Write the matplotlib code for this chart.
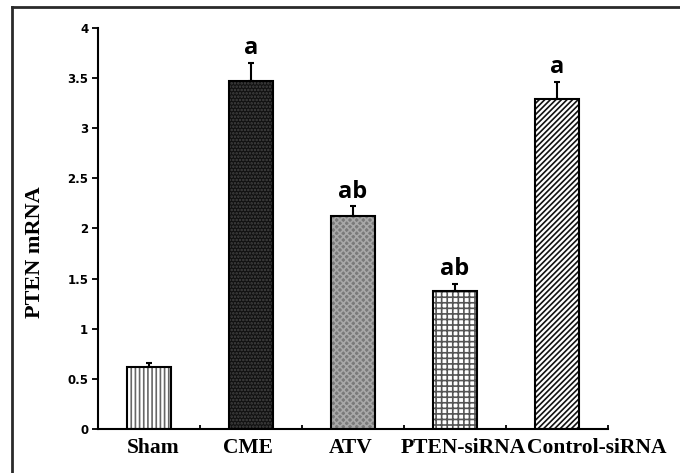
import matplotlib
matplotlib.use('Agg')
import matplotlib.pyplot as plt
from matplotlib.lines import Line2D
from matplotlib.ticker import FuncFormatter
from matplotlib.transforms import blended_transform_factory, ScaledTranslation
import numpy as np

groups = ['Sham', 'CME', 'ATV', 'PTEN-siRNA', 'Control-siRNA']
means = [0.62, 3.47, 2.12, 1.38, 3.29]
errs = [0.04, 0.18, 0.10, 0.07, 0.17]
letters = ['', 'a', 'ab', 'ab', 'a']

# fill, hatch, hatch colour for every bar
faces = ['white', '#111111', '#7a7a7a', 'white', 'white']
hatches = ['||||', '.....', 'xxxxx', '+++', '//////']
hcolors = ['#666666', '#444444', '#a8a8a8', '#555555', '#111111']
# horizontal nudges of the category labels (pixels), as in the original
label_dx = [4, -3, -2, 8, 40]

plt.rcParams['hatch.linewidth'] = 1.2

fig = plt.figure(figsize=(6.8, 4.73), dpi=100)
ax = fig.add_axes([0.144, 0.093, 0.75, 0.848])

x = np.arange(len(groups))
w = 0.43
for i in range(len(groups)):
    ax.bar(x[i], means[i], w, color=faces[i], hatch=hatches[i],
           edgecolor=hcolors[i], linewidth=0, zorder=2)
ax.bar(x, means, w, fill=False, edgecolor='black', linewidth=1.5, zorder=3)
ax.errorbar(x, means, yerr=[np.zeros(len(errs)), errs], fmt='none',
            ecolor='black', elinewidth=1.5, capsize=2.5, capthick=1.5, zorder=4)

for i, t in enumerate(letters):
    if t:
        ax.annotate(t, (x[i], means[i] + errs[i]), xytext=(0, 2),
                    textcoords='offset points', ha='center', va='bottom',
                    fontsize=17, fontweight='bold', family='Open Sans')

ax.set_xlim(-0.5, 4.5)
ax.set_ylim(0, 4)
ax.set_yticks(np.arange(0, 4.01, 0.5))
ax.yaxis.set_major_formatter(FuncFormatter(lambda v, p: '%g' % v))
for lab in ax.get_yticklabels():
    lab.set_fontweight('bold')
ax.tick_params(axis='y', labelsize=8.5, length=4, width=1.3, direction='out', pad=3)

ax.set_xticks(np.arange(-0.5, 4.6, 1.0))
ax.set_xticklabels([])
ax.tick_params(axis='x', which='major', length=3, width=1.3, direction='in')

trans = blended_transform_factory(ax.transData, ax.transAxes)
for i, g in enumerate(groups):
    off = ScaledTranslation(label_dx[i] / 100, -9 / 100, fig.dpi_scale_trans)
    ax.text(x[i], 0, g, transform=trans + off, ha='center', va='top',
            fontsize=15.5, fontweight='bold', family='Liberation Serif')

for s in ['top', 'right']:
    ax.spines[s].set_visible(False)
for s in ['left', 'bottom']:
    ax.spines[s].set_linewidth(1.5)

ax.set_ylabel('PTEN mRNA', fontsize=16, fontweight='bold', family='Liberation Serif')
ax.yaxis.set_label_coords(-0.104, 0.44)

# outer frame (only left and top edges visible)
fx = 12 / 680
fy = 1 - 7 / 473
fig.add_artist(Line2D([fx, fx], [0, fy], color='#2a2a2a', lw=2))
fig.add_artist(Line2D([fx, 1], [fy, fy], color='#2a2a2a', lw=2))

fig.savefig('out.png', dpi=100)
